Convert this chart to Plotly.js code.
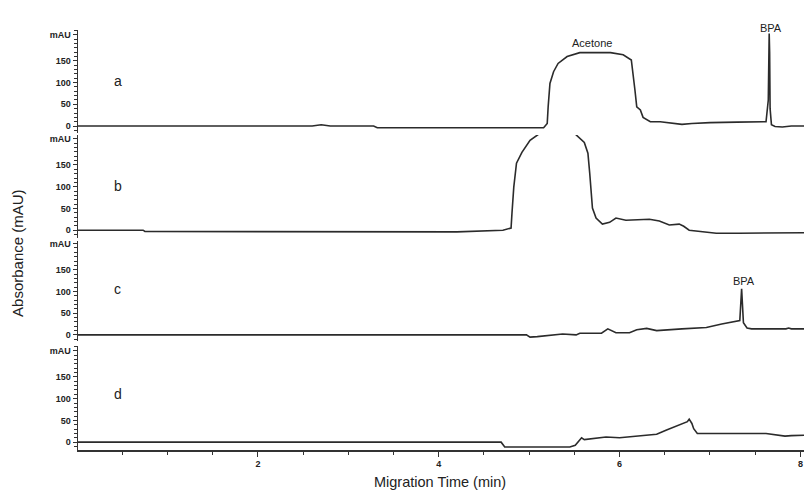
<!DOCTYPE html>
<html>
<head>
<meta charset="utf-8">
<script src="https://cdn.plot.ly/plotly-3.0.1.min.js"></script>
<style>html,body{margin:0;padding:0;background:#fff;}#chart{width:804px;height:493px;}</style>
</head>
<body>
<div id="chart"></div>
<script>
// Trace a: standard with acetone and BPA
const timeA = [0.01, 2.6, 2.7, 2.8, 3.28, 3.32, 5.16, 5.20, 5.21, 5.23, 5.27, 5.32, 5.42, 5.56, 5.90, 6.04, 6.13, 6.15, 6.17, 6.19, 6.23, 6.26, 6.34, 6.45, 6.55, 6.69, 6.80, 7.00, 7.30, 7.62, 7.645, 7.65, 7.655, 7.66, 7.665, 7.68, 7.72, 7.80, 7.90, 8.04];
const absA = [0, 0, 3, 0, 0, -4, -4, 6, 44, 98, 125, 144, 160, 169, 169, 164, 152, 121, 83, 44, 37, 20, 10, 10, 7, 4, 6, 8, 9, 10, 60, 172, 213, 170, 40, 3, -1, -2, 0, 0];
// Trace b
const timeB = [0.01, 0.73, 0.75, 4.2, 4.71, 4.80, 4.81, 4.83, 4.86, 4.92, 5.01, 5.12, 5.20, 5.30, 5.40, 5.50, 5.61, 5.65, 5.67, 5.69, 5.70, 5.74, 5.81, 5.89, 5.96, 6.07, 6.33, 6.44, 6.55, 6.66, 6.71, 6.77, 6.91, 7.07, 7.32, 8.04];
const absB = [0, 0, -3, -4, 0, 5, 39, 99, 154, 179, 207, 223, 250, 262, 250, 223, 202, 177, 131, 85, 51, 28, 14, 18, 28, 23, 25, 21, 12, 14, 9, 0, -4, -7, -7, -6];
// Trace c
const timeC = [0.01, 4.97, 5.01, 5.09, 5.37, 5.52, 5.56, 5.80, 5.87, 5.92, 5.96, 6.11, 6.19, 6.30, 6.41, 6.69, 6.96, 7.13, 7.30, 7.33, 7.35, 7.36, 7.37, 7.41, 7.46, 7.84, 7.87, 7.90, 8.04];
const absC = [0, 0, -5, -4, 2, 0, 4, 4, 14, 10, 5, 5, 12, 15, 10, 14, 17, 25, 31, 33, 106, 62, 28, 16, 14, 14, 16, 14, 14];
// Trace d
const timeD = [0.01, 4.69, 4.73, 5.45, 5.51, 5.54, 5.58, 5.61, 5.85, 6.00, 6.25, 6.41, 6.52, 6.58, 6.66, 6.72, 6.75, 6.77, 6.80, 6.82, 6.86, 7.62, 7.79, 7.83, 7.90, 8.04];
const absD = [0, 0, -11, -11, -7, 0, 10, 6, 12, 10, 14, 18, 28, 33, 39, 44, 47, 53, 43, 31, 20, 20, 16, 14, 15, 16];

const panelLabels = ['a', 'b', 'c', 'd'];
const xTickVals = [2, 4, 6, 8];
const xTickText = ['2', '4', '6', '8'];
const yTickVals = [0, 50, 100, 150, 210];
const yTickText = ['0', '50', '100', '150', 'mAU'];

const yMinor = [];
for (let v = -10; v <= 220; v += 10) yMinor.push(v);
const xMinor = [];
for (let v = 0.5; v <= 8; v += 0.5) xMinor.push(v);

const lineStyle = {color: '#2b2b2b', width: 1.6};
const series = [[timeA, absA], [timeB, absB], [timeC, absC], [timeD, absD]];
const yNames = ['y', 'y2', 'y3', 'y4'];
const traces = series.map((s, i) => ({
  x: s[0], y: s[1], type: 'scatter', mode: 'lines',
  line: lineStyle, xaxis: 'x', yaxis: yNames[i], hoverinfo: 'skip'
}));

const domains = [[0.7044, 0.9333], [0.4711, 0.70], [0.2422, 0.4644], [0.0, 0.2311]];
const ranges = [[-16, 221], [-18, 219], [-14, 216], [-18, 221]];
const fontFam = 'Liberation Sans, Arial, sans-serif';

function yAxis(i) {
  return {
    domain: domains[i], range: ranges[i], anchor: 'x',
    showline: true, linecolor: '#333', linewidth: 1.5,
    ticks: 'outside', ticklen: 4, tickwidth: 1, tickcolor: '#333',
    tickmode: 'array', tickvals: yTickVals, ticktext: yTickText,
    tickfont: {family: fontFam, size: 9, color: '#222', weight: 'bold'},
    minor: {tickmode: 'array', tickvals: yMinor, ticks: 'outside', ticklen: 3, tickwidth: 1, tickcolor: '#333'},
    showgrid: false, zeroline: false, fixedrange: true
  };
}

const letterY = [104, 102, 106, 110];
const annotations = panelLabels.map((t, i) => ({
  text: t, x: 0.45, y: letterY[i], xref: 'x', yref: yNames[i],
  showarrow: false, font: {family: fontFam, size: 14, color: '#222'}
}));
annotations.push(
  {text: 'Acetone', x: 5.69, y: 192, xref: 'x', yref: 'y', showarrow: false,
   font: {family: fontFam, size: 11, color: '#222'}},
  {text: 'BPA', x: 7.67, y: 0.9556, xref: 'x', yref: 'paper', showarrow: false,
   font: {family: fontFam, size: 11, color: '#222'}},
  {text: 'BPA', x: 7.38, y: 125, xref: 'x', yref: 'y3', showarrow: false,
   font: {family: fontFam, size: 11, color: '#222'}},
  {text: 'Absorbance (mAU)', x: -0.0826, y: 0.438, xref: 'paper', yref: 'paper',
   textangle: -90, showarrow: false, xanchor: 'center', yanchor: 'middle',
   font: {family: fontFam, size: 15, color: '#222'}},
  {text: 'Migration Time (min)', x: 0.4986, y: -0.071, xref: 'paper', yref: 'paper',
   showarrow: false, xanchor: 'center', yanchor: 'middle',
   font: {family: fontFam, size: 14.5, color: '#222'}}
);

const layout = {
  width: 804, height: 493,
  margin: {l: 78, r: 0, t: 0, b: 43, pad: 0},
  paper_bgcolor: '#fff', plot_bgcolor: '#fff',
  showlegend: false,
  xaxis: {
    range: [0.01, 8.04], anchor: 'y4', domain: [0, 1],
    showline: true, linecolor: '#333', linewidth: 1.5,
    ticks: 'outside', ticklen: 5, tickcolor: '#333',
    tickmode: 'array', tickvals: xTickVals, ticktext: xTickText,
    tickfont: {family: fontFam, size: 9, color: '#222', weight: 'bold'},
    minor: {tickmode: 'array', tickvals: xMinor, ticks: 'outside', ticklen: 3, tickwidth: 1, tickcolor: '#333'},
    showgrid: false, zeroline: false, fixedrange: true
  },
  yaxis: yAxis(0), yaxis2: yAxis(1), yaxis3: yAxis(2), yaxis4: yAxis(3),
  annotations: annotations
};

Plotly.newPlot('chart', traces, layout, {displayModeBar: false, staticPlot: true});
</script>
</body>
</html>
